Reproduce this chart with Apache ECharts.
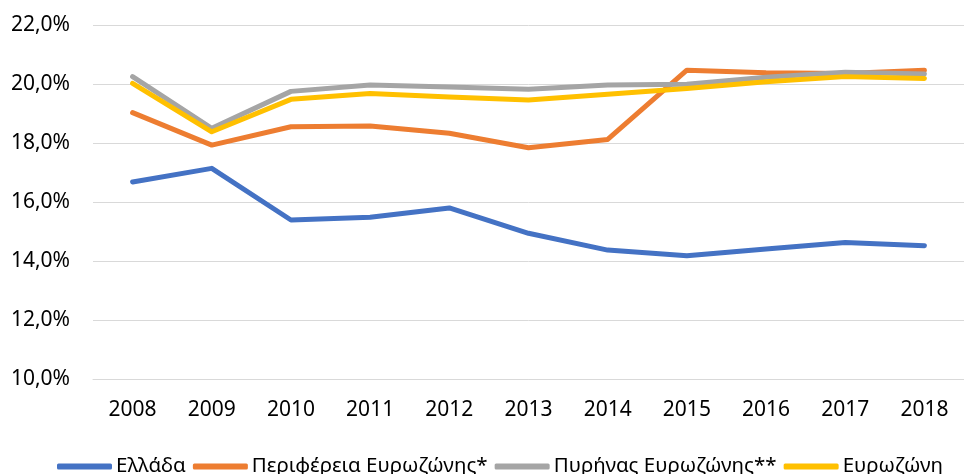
<!DOCTYPE html>
<html>
<head>
<meta charset="utf-8">
<script src="https://cdn.jsdelivr.net/npm/echarts@6/dist/echarts.min.js"></script>
<style>
html,body{margin:0;padding:0;background:#fff;}
#chart{width:964px;height:474px;}
</style>
</head>
<body>
<div id="chart"></div>
<script>
const categories = ['2008','2009','2010','2011','2012','2013','2014','2015','2016','2017','2018'];
const seriesNames = ['Ελλάδα','Περιφέρεια Ευρωζώνης*','Πυρήνας Ευρωζώνης**','Ευρωζώνη'];
const greece = [16.68, 17.14, 15.39, 15.48, 15.80, 14.94, 14.37, 14.18, 14.41, 14.63, 14.52];
const periphery = [19.03, 17.93, 18.55, 18.58, 18.33, 17.84, 18.12, 20.47, 20.38, 20.36, 20.47];
const core = [20.25, 18.50, 19.75, 19.97, 19.90, 19.82, 19.97, 19.99, 20.23, 20.40, 20.34];
const eurozone = [20.02, 18.38, 19.48, 19.68, 19.56, 19.46, 19.65, 19.85, 20.08, 20.25, 20.19];
const colors = ['#4472C4','#ED7D31','#A5A5A5','#FFC000'];
const allData = [greece, periphery, core, eurozone];

const font = '"Noto Sans", "Open Sans", sans-serif';
const chart = echarts.init(document.getElementById('chart'), null, {renderer:'canvas'});
chart.setOption({
  animation: false,
  backgroundColor: '#fff',
  color: colors,
  grid: { left: 93, top: 25, width: 885.5, bottom: 95, containLabel: false },
  legend: {
    left: 52, top: 451,
    itemWidth: 55, itemHeight: 6, itemGap: 7,
    icon: 'roundRect',
    textStyle: { fontFamily: font, fontSize: 20.5, color: '#000', padding: [0,0,0,-1] },
    data: seriesNames
  },
  xAxis: {
    type: 'category',
    data: categories,
    boundaryGap: true,
    axisLine: { show: true, lineStyle: { color: '#d9d9d9', width: 1 } },
    axisTick: { show: false },
    axisLabel: { margin: 21, fontFamily: font, fontSize: 21, color: '#000' }
  },
  yAxis: {
    type: 'value',
    min: 10, max: 22, interval: 2,
    axisLine: { show: false },
    axisTick: { show: false },
    splitLine: { lineStyle: { color: '#d9d9d9', width: 1 } },
    axisLabel: {
      margin: 23, fontFamily: font, fontSize: 21, color: '#000',
      formatter: v => v.toFixed(1).replace('.', ',') + '%'
    }
  },
  series: seriesNames.map((n, i) => ({
    name: n,
    type: 'line',
    data: allData[i],
    symbol: 'none',
    lineStyle: { width: 5, color: colors[i], cap: 'round', join: 'round' },
    itemStyle: { color: colors[i] }
  }))
});
</script>
</body>
</html>
